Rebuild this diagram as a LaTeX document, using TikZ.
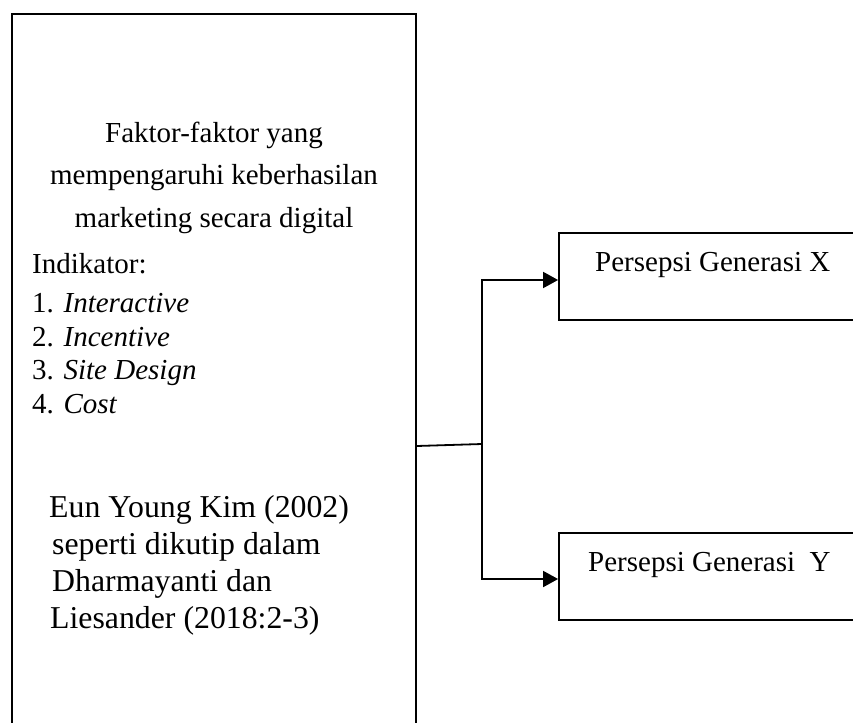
\documentclass[tikz,border=0pt]{standalone}
\usepackage{fontspec}
\setmainfont{Liberation Serif}
\usetikzlibrary{arrows.meta}
\begin{document}
\begin{tikzpicture}[x=1pt,y=-1pt,
  box/.style={draw=black,line width=1.8pt,rectangle,inner sep=0pt},
  txt/.style={inner sep=0pt,font=\fontsize{29}{34}\selectfont},
  bigtxt/.style={inner sep=0pt,font=\fontsize{31.8}{37}\selectfont},
  conn/.style={line width=1.8pt},
  arr/.style={line width=1.8pt,-{Triangle[length=15pt,width=16pt]}}]
\clip (0,0) rectangle (853,722);
\fill[white] (0,0) rectangle (853,722);
% boxes
\node[box,minimum width=404pt,minimum height=746pt] (src) at (214,387) {};
\node[box,minimum width=341pt,minimum height=87pt] (gx) at (729.5,276.5) {};
\node[box,minimum width=341pt,minimum height=87pt] (gy) at (729.5,576.5) {};
% left box texts
\node[txt,anchor=base] (t1) at (214,143) {Faktor-faktor yang};
\node[txt,anchor=base] (t2) at (214,185) {mempengaruhi keberhasilan};
\node[txt,anchor=base] (t3) at (214,227) {marketing secara digital};
\node[txt,anchor=base west] (i0) at (32,273) {Indikator:};
\node[txt,anchor=base west] (i1) at (32,312.5) {1. \textit{Interactive}};
\node[txt,anchor=base west] (i2) at (32,346) {2. \textit{Incentive}};
\node[txt,anchor=base west] (i3) at (32,379) {3. \textit{Site Design}};
\node[txt,anchor=base west] (i4) at (32,413) {4. \textit{Cost}};
\node[bigtxt,anchor=base west] (r1) at (49,517) {Eun Young Kim (2002)};
\node[bigtxt,anchor=base west] (r2) at (52,554) {seperti dikutip dalam};
\node[bigtxt,anchor=base west] (r3) at (52,591) {Dharmayanti dan};
\node[bigtxt,anchor=base west] (r4) at (50,628) {Liesander (2018:2-3)};
% right box texts
\node[txt,anchor=base west] (lx) at (595,271) {Persepsi Generasi X};
\node[txt,anchor=base west] (ly) at (588,571) {Persepsi Generasi\ \ Y};
% connectors
\coordinate (s) at (src.east |- 0,446);
\coordinate (j) at (482,444);
\coordinate (ax) at (482,280);
\coordinate (ay) at (482,579);
\draw[conn] (s) -- (j);
\draw[arr] (j) -- (ax) -- (gx.west |- ax);
\draw[arr] (j) -- (ay) -- (gy.west |- ay);
\end{tikzpicture}
\end{document}
